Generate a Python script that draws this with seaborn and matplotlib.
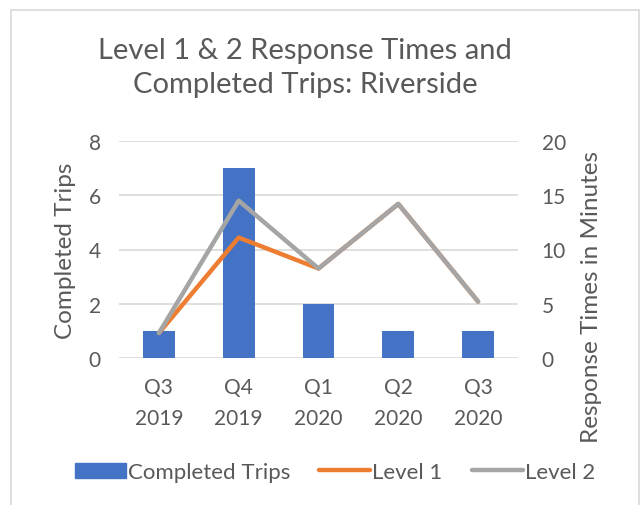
import numpy as np
import matplotlib.pyplot as plt
import seaborn as sns
from matplotlib.patches import Patch, Rectangle
from matplotlib.lines import Line2D

quarters = ["Q3\n2019", "Q4\n2019", "Q1\n2020", "Q2\n2020", "Q3\n2020"]
completed_trips = [1, 7, 2, 1, 1]
level_1 = [2.3, 11.1, 8.25, 14.2, 5.2]
level_2 = [2.3, 14.5, 8.25, 14.2, 5.2]

BLUE = "#4472C4"
ORANGE = "#ED7D31"
GRAY = "#A5A5A5"
TEXT = "#595959"
GRID = "#D9D9D9"

sns.set_theme(style="white")
plt.rcParams["font.family"] = ["Lato", "DejaVu Sans"]
plt.rcParams["text.color"] = TEXT

fig = plt.figure(figsize=(6.44, 5.06), dpi=100)
ax = fig.add_axes([119 / 644, 147 / 506, 399 / 644, 217 / 506])

sns.barplot(x=quarters, y=completed_trips, color=BLUE, saturation=1,
            width=0.4, linewidth=0, ax=ax, zorder=2)
ax.set_ylim(0, 8)
ax.set_yticks(range(0, 9, 2))
ax.yaxis.grid(True, color=GRID, lw=1.2, zorder=0)
ax.set_axisbelow(True)
ax.set_xlabel("")
ax.set_ylabel("")

ax2 = ax.twinx()
pos = np.arange(len(quarters))
sns.lineplot(x=pos, y=level_1, color=ORANGE, lw=3.2, ax=ax2,
             solid_capstyle="round", solid_joinstyle="round")
sns.lineplot(x=pos, y=level_2, color=GRAY, lw=3.2, ax=ax2,
             solid_capstyle="round", solid_joinstyle="round")
ax2.set_ylim(0, 20)
ax2.set_yticks(range(0, 21, 5))
ax2.set_ylabel("")
ax2.set_xlim(-0.5, 4.5)

for a in (ax, ax2):
    sns.despine(ax=a, left=True, right=True, top=True, bottom=True)
    a.tick_params(length=0, labelsize=15, labelcolor=TEXT)
ax.tick_params(axis="y", pad=13)
ax.tick_params(axis="x", pad=14)
ax2.tick_params(axis="y", pad=17)
for lbl in ax.get_xticklabels():
    lbl.set_linespacing(1.65)

fig.text(0.474, 0.866, "Level 1 & 2 Response Times and\nCompleted Trips: Riverside",
         ha="center", va="center", fontsize=21, linespacing=1.4, color=TEXT)
fig.text(65 / 644, 0.504, "Completed Trips", rotation=90, ha="center",
         va="center", fontsize=17.5, color=TEXT)
fig.text(592 / 644, 0.413, "Response Times in Minutes", rotation=90,
         ha="center", va="center", fontsize=17.5, color=TEXT)

handles = [Patch(color=BLUE),
           Line2D([], [], color=ORANGE, lw=3.2, solid_capstyle="round"),
           Line2D([], [], color=GRAY, lw=3.2, solid_capstyle="round")]
fig.legend(handles, ["Completed Trips", "Level 1", "Level 2"], loc="center",
           bbox_to_anchor=(0.52, 0.065), ncol=3, frameon=False, fontsize=16,
           handlelength=2.3, handletextpad=0.1, columnspacing=1.3,
           labelcolor=TEXT)

fig.patches.append(Rectangle((11 / 644, -0.05), 628 / 644, 0.05 + 495 / 506,
                             transform=fig.transFigure, fill=False,
                             edgecolor=GRID, lw=1.2))

fig.savefig("out.png", dpi=100, facecolor="white")
